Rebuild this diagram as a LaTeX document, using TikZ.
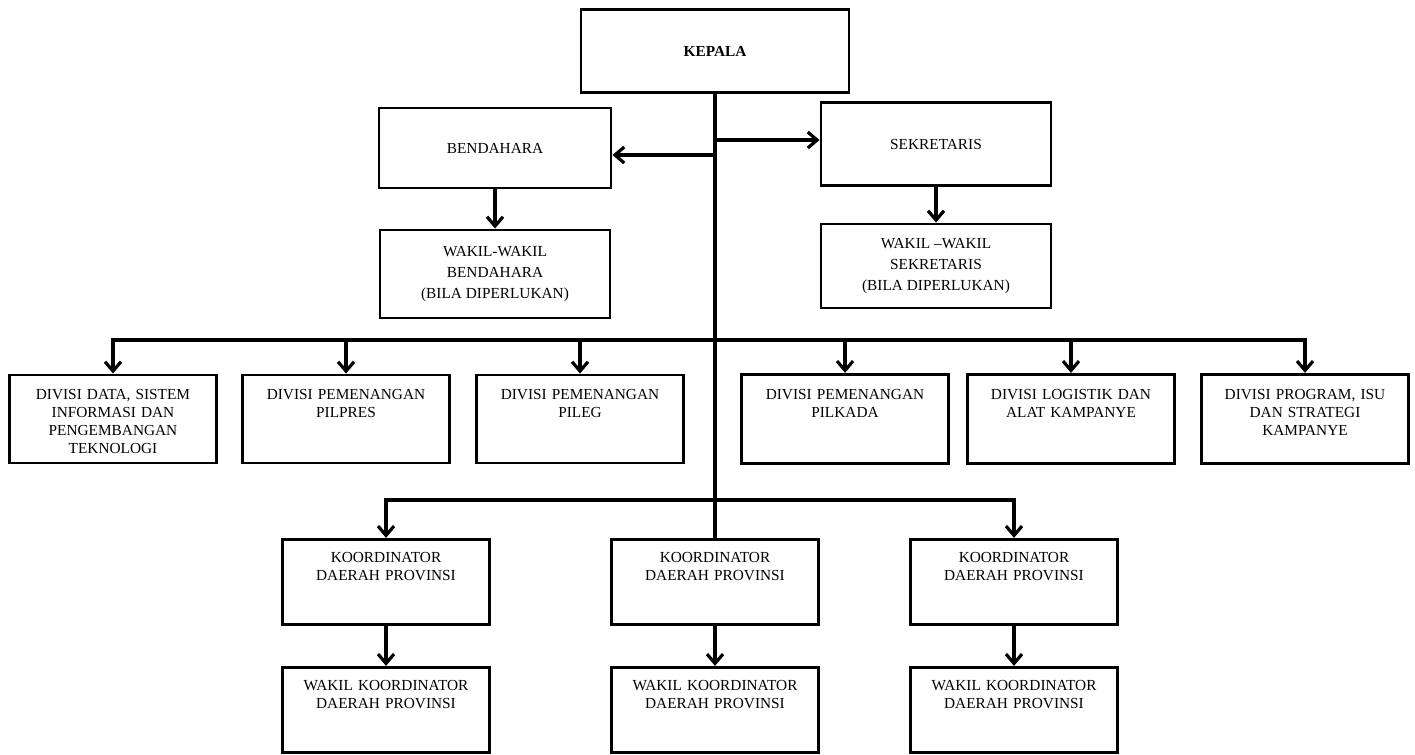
\documentclass[tikz,border=0pt]{standalone}
\usepackage{fontspec}
\setmainfont{Liberation Serif}
\usetikzlibrary{arrows.meta}

\newcommand{\orgfont}{\fontsize{11.5}{13.5}\selectfont}
\newcommand{\wakilfont}{\fontsize{11.5}{15.5}\selectfont}

\begin{document}
\begin{tikzpicture}[x=0.75pt, y=-0.75pt,
    box/.style={draw, line width=2.2pt, inner sep=3pt, align=center, font=\orgfont},
    topbox/.style={box, text width=149pt, text height=14pt, text depth=45pt},
    link/.style={line width=2.4pt, line cap=rect},
    arr/.style={link, -{Straight Barb[length=7pt,width=12pt]}}]
    \useasboundingbox (0,0) rectangle (1415,754);

    % Pimpinan
    \node[box, minimum width=201pt, minimum height=62pt, font=\orgfont\bfseries] (kepala) at (715,51) {KEPALA};
    \node[box, minimum width=174pt, minimum height=60pt] (bendahara) at (495,148) {BENDAHARA};
    \node[box, minimum width=172.5pt, minimum height=62pt] (sekretaris) at (936,144) {SEKRETARIS};
    \node[box, minimum width=172.5pt, minimum height=66pt, font=\wakilfont] (wakilbend) at (495,274) {WAKIL-WAKIL\\BENDAHARA\\(BILA DIPERLUKAN)};
    \node[box, minimum width=172.5pt, minimum height=63pt, font=\wakilfont] (wakilsek) at (936,266) {WAKIL --WAKIL\\SEKRETARIS\\(BILA DIPERLUKAN)};

    % Divisi
    \node[topbox, text height=15pt] (div1) at (113,419) {DIVISI DATA, SISTEM\\INFORMASI DAN\\PENGEMBANGAN\\TEKNOLOGI};
    \node[topbox, text height=15pt] (div2) at (346,419) {DIVISI PEMENANGAN\\PILPRES};
    \node[topbox, text height=15pt] (div3) at (580,419) {DIVISI PEMENANGAN\\PILEG};
    \node[topbox, text height=16pt] (div4) at (845,419) {DIVISI PEMENANGAN\\PILKADA};
    \node[topbox, text height=16pt] (div5) at (1071,419) {DIVISI LOGISTIK DAN\\ALAT KAMPANYE};
    \node[topbox, text height=16pt] (div6) at (1305,419) {DIVISI PROGRAM, ISU\\DAN STRATEGI\\KAMPANYE};

    % Koordinator daerah
    \foreach \i/\x in {1/386, 2/715, 3/1014} {
        \node[topbox, text depth=44pt] (kor\i) at (\x,582) {KOORDINATOR\\DAERAH PROVINSI};
        \node[topbox, text depth=44pt] (wakilkor\i) at (\x,710) {WAKIL KOORDINATOR\\DAERAH PROVINSI};
    }

    % Garis
    \coordinate (jbend) at (715,155);
    \coordinate (jsek) at (715,140);
    \coordinate (bus1) at (715,340);
    \coordinate (bus2) at (715,500);
    \draw[link] (kepala.south) -- (kor2.north);
    \draw[arr] (jbend) -- (jbend -| bendahara.east);
    \draw[arr] (jsek) -- (jsek -| sekretaris.west);
    \draw[arr] (bendahara.south) -- (wakilbend.north);
    \draw[arr] (sekretaris.south) -- (wakilsek.north);
    \draw[link] (div1.north |- bus1) -- (div6.north |- bus1);
    \foreach \i in {1,...,6}
        \draw[arr] (div\i.north |- bus1) -- (div\i.north);
    \draw[link] (kor1.north |- bus2) -- (kor3.north |- bus2);
    \draw[arr] (kor1.north |- bus2) -- (kor1.north);
    \draw[arr] (kor3.north |- bus2) -- (kor3.north);
    \foreach \i in {1,2,3}
        \draw[arr] (kor\i.south) -- (wakilkor\i.north);
\end{tikzpicture}
\end{document}
